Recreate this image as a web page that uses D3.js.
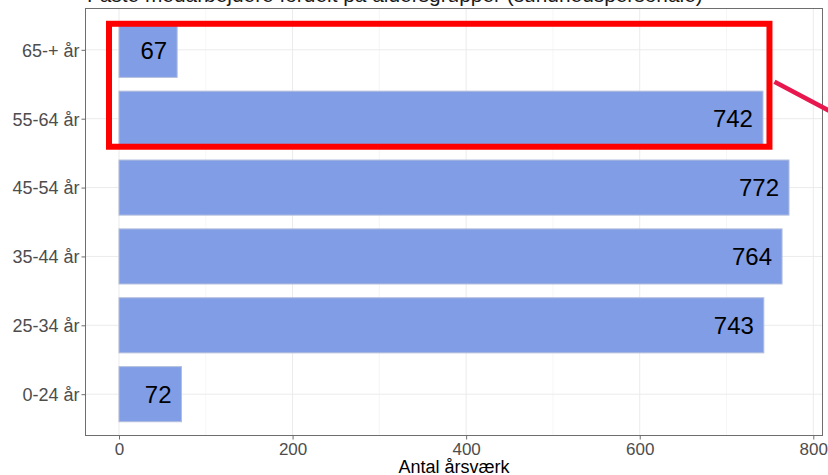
<!DOCTYPE html>
<html>
<head>
<meta charset="utf-8">
<script src="https://cdn.jsdelivr.net/npm/d3@7"></script>
<style>
  html, body { margin: 0; padding: 0; background: #fff; }
  svg { display: block; font-family: "Liberation Sans", Arial, sans-serif; }
</style>
</head>
<body>
<svg id="chart" width="828" height="475"></svg>
<script>
// Age groups, bottom to top, and full-time equivalents per group
const ageGroups = ["0-24 år", "25-34 år", "35-44 år", "45-54 år", "55-64 år", "65-+ år"];
const fteValues = [72, 743, 764, 772, 742, 67];
const xTicks = [0, 200, 400, 600, 800];
const xMinorTicks = [100, 300, 500, 700];
const titleText = "Faste medarbejdere fordelt på aldersgrupper (sundhedspersonale)";
const xTitle = "Antal årsværk";
// groups singled out by the red frame
const highlighted = ["65-+ år", "55-64 år"];

const data = ageGroups.map((g, i) => ({ group: g, value: fteValues[i] }));

const svg = d3.select("#chart");
const panel = { left: 85.5, right: 822.5, top: 8.5, bottom: 435.5 };

// ggplot-like 5% expansion of the value range
const maxV = d3.max(fteValues);
const x = d3.scaleLinear()
  .domain([-0.05 * maxV, maxV * 1.05])
  .range([panel.left, panel.right]);

// discrete axis with 0.6 unit padding on each side
const step = (panel.bottom - panel.top) / (ageGroups.length - 1 + 1.2);
const yCenter = d3.scalePoint()
  .domain(ageGroups)
  .range([panel.bottom - 0.6 * step, panel.top + 0.6 * step]);
const barH = 0.8 * step;

// title (sits partly above the canvas)
const title = svg.append("text")
  .attr("x", 87).attr("y", 2)
  .attr("fill", "#1a1a1a")
  .style("font-size", "20px")
  .text(titleText);
const tw = title.node().getComputedTextLength();
title.style("font-size", (20 * 616 / tw) + "px");

// grid
const grid = svg.append("g");
grid.selectAll("line.minor").data(xMinorTicks).join("line")
  .attr("x1", d => x(d)).attr("x2", d => x(d))
  .attr("y1", panel.top).attr("y2", panel.bottom)
  .attr("stroke", "#f2f2f2").attr("stroke-width", 0.7);
grid.selectAll("line.majx").data(xTicks).join("line")
  .attr("x1", d => x(d)).attr("x2", d => x(d))
  .attr("y1", panel.top).attr("y2", panel.bottom)
  .attr("stroke", "#ebebeb").attr("stroke-width", 1);
grid.selectAll("line.majy").data(ageGroups).join("line")
  .attr("x1", panel.left).attr("x2", panel.right)
  .attr("y1", d => yCenter(d)).attr("y2", d => yCenter(d))
  .attr("stroke", "#ebebeb").attr("stroke-width", 1);

// bars
svg.append("g").selectAll("rect").data(data).join("rect")
  .attr("x", x(0))
  .attr("y", d => yCenter(d.group) - barH / 2)
  .attr("width", d => x(d.value) - x(0))
  .attr("height", barH)
  .attr("fill", "#809de6")
  .attr("stroke", "#b3bedb")
  .attr("stroke-width", 1);

// value labels inside the bar ends
svg.append("g").selectAll("text").data(data).join("text")
  .attr("x", d => x(d.value) - 10)
  .attr("y", d => yCenter(d.group) + 8.8)
  .attr("text-anchor", "end")
  .attr("fill", "#000")
  .style("font-size", "24px")
  .text(d => d.value);

// panel border
svg.append("rect")
  .attr("x", panel.left).attr("y", panel.top)
  .attr("width", panel.right - panel.left)
  .attr("height", panel.bottom - panel.top)
  .attr("fill", "none")
  .attr("stroke", "#6e6e6e").attr("stroke-width", 1);

// x axis
const xAxis = svg.append("g")
  .attr("transform", `translate(0,${panel.bottom})`)
  .call(d3.axisBottom(x).tickValues(xTicks).tickSize(4).tickPadding(3).tickFormat(d3.format("d")));
xAxis.select(".domain").remove();
xAxis.selectAll(".tick line").attr("stroke", "#6e6e6e");
xAxis.selectAll(".tick text")
  .attr("fill", "#4d4d4d")
  .style("font-size", "17px")
  .style("font-family", "'Liberation Sans', Arial, sans-serif");

// y axis
const yAxis = svg.append("g")
  .attr("transform", `translate(${panel.left},0)`)
  .call(d3.axisLeft(yCenter).tickSize(4).tickPadding(2));
yAxis.select(".domain").remove();
yAxis.selectAll(".tick line").attr("stroke", "#6e6e6e");
yAxis.selectAll(".tick text")
  .attr("fill", "#4d4d4d")
  .attr("dy", "0.35em")
  .style("font-size", "18px")
  .style("font-family", "'Liberation Sans', Arial, sans-serif");

// axis title
svg.append("text")
  .attr("x", (panel.left + panel.right) / 2)
  .attr("y", 472.5)
  .attr("text-anchor", "middle")
  .attr("fill", "#000")
  .style("font-size", "18px")
  .text(xTitle);

// red frame around the highlighted groups, plus the pointer line
const hiVals = data.filter(d => highlighted.includes(d.group));
const frameL = x(0) - 10;
const frameR = x(d3.max(hiVals, d => d.value)) + 6.5;
const frameT = d3.min(hiVals, d => yCenter(d.group)) - barH / 2 + 1.5;
const frameB = d3.max(hiVals, d => yCenter(d.group)) + barH / 2 + 0.5;
svg.append("rect")
  .attr("x", frameL).attr("y", frameT)
  .attr("width", frameR - frameL).attr("height", frameB - frameT)
  .attr("fill", "none")
  .attr("stroke", "#ff0000")
  .attr("stroke-width", 6);

const px = frameR + 5, py = frameT + 58;
svg.append("line")
  .attr("x1", px).attr("y1", py)
  .attr("x2", px + 80).attr("y2", py + 80 * 0.53)
  .attr("stroke", "#e8184e")
  .attr("stroke-width", 4.5);
</script>
</body>
</html>
